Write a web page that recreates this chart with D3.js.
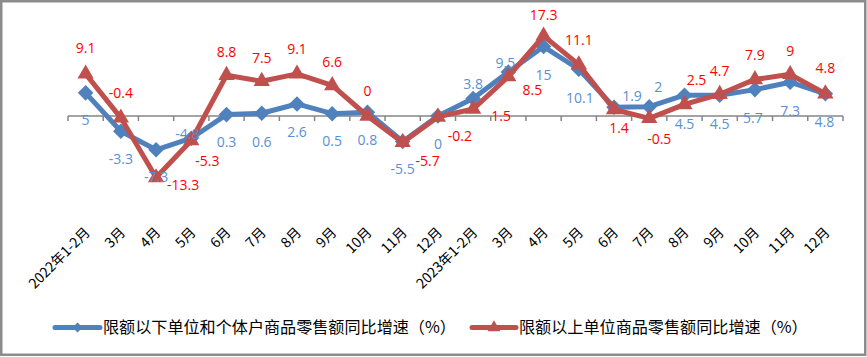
<!DOCTYPE html>
<html><head><meta charset="utf-8">
<script src="https://cdn.jsdelivr.net/npm/d3@7"></script>
<style>body{margin:0;background:#fff}svg{display:block}</style>
</head><body>
<svg id="c" width="867" height="357"></svg>
<script>
const categories = ["2022年1-2月","3月","4月","5月","6月","7月","8月","9月","10月","11月","12月","2023年1-2月","3月","4月","5月","6月","7月","8月","9月","10月","11月","12月"];
const seriesBelow = [5,-3.3,-7.3,-4.8,0.3,0.6,2.6,0.5,0.8,-5.5,0,3.8,9.5,15,10.1,1.9,2,4.5,4.5,5.7,7.3,4.8];
const seriesAbove = [9.1,-0.4,-13.3,-5.3,8.8,7.5,9.1,6.6,0,-5.7,-0.2,1.5,8.5,17.3,11.1,1.4,-0.5,2.5,4.7,7.9,9,4.8];
const seriesNames = ["限额以下单位和个体户商品零售额同比增速（%）","限额以上单位商品零售额同比增速（%）"];
// label offsets (px) relative to each point
const belowLabelOffsets = [[0,27],[0,27],[0,27],[-4,-5],[0,27],[0,28],[0,28],[0,27],[0,27],[0,27],[0,27],[0,-15],[-3,-10],[0,28],[1,28],[18,-12],[9,-20],[0,28],[0,28],[-2,28],[0,28],[-1,28]];
const aboveLabelOffsets = [[0,-26],[0,-25],[27,7],[16,20],[0,-24],[0,-24],[0,-25],[0,-24],[0,-26],[25,18],[22,19],[28,6],[24,13],[0,-21],[0,-25],[5,18],[10,20],[12,-25],[0,-24],[0,-25],[0,-24],[0,-26]];

const svg = d3.select("#c");
const blue = "#4F81BD", red = "#C0504D";
const x = d3.scaleBand().domain(d3.range(categories.length)).range([68, 843]);
const y = d3.scaleLinear().domain([-20, 20]).range([208.6, 23.4]);
const cx = i => x(i) + x.bandwidth() / 2;

// frame
svg.append("rect").attr("x",1.25).attr("y",1.25).attr("width",864).attr("height",353.5)
  .attr("fill","none").attr("stroke","#8c8c8c").attr("stroke-width",2.5);

// axis
const y0 = y(0);
svg.append("line").attr("x1",68).attr("x2",843).attr("y1",y0).attr("y2",y0)
  .attr("stroke","#868686").attr("stroke-width",1.5);
const tickPos = d3.range(categories.length).map(i => x(i)).concat([x.range()[1]]);
svg.selectAll("line.tick").data(tickPos).join("line").attr("class","tick")
  .attr("x1",d=>d).attr("x2",d=>d).attr("y1",y0).attr("y2",y0+5)
  .attr("stroke","#868686").attr("stroke-width",1.5);
svg.selectAll("text.xl").data(categories).join("text").attr("class","xl")
  .attr("transform",(d,i)=>`translate(${cx(i)+1},229) rotate(-45)`)
  .attr("text-anchor","end").attr("dominant-baseline","central")
  .attr("font-family","'Noto Sans CJK SC', sans-serif").attr("font-size",14)
  .attr("fill","#000").text(d=>d);

const line = d3.line().x((d,i)=>cx(i)).y(d=>y(d));
// blue series
svg.append("path").datum(seriesBelow).attr("d",line).attr("fill","none")
  .attr("stroke",blue).attr("stroke-width",5).attr("stroke-linejoin","round");
svg.selectAll("path.bm").data(seriesBelow).join("path").attr("class","bm")
  .attr("d",d3.symbol(d3.symbolSquare,121)())
  .attr("transform",(d,i)=>`translate(${cx(i)},${y(d)}) rotate(45)`).attr("fill",blue);
// red series
svg.append("path").datum(seriesAbove).attr("d",line).attr("fill","none")
  .attr("stroke",red).attr("stroke-width",5).attr("stroke-linejoin","round");
svg.selectAll("path.rm").data(seriesAbove).join("path").attr("class","rm")
  .attr("d",d3.symbol(d3.symbolTriangle,115)())
  .attr("transform",(d,i)=>`translate(${cx(i)},${y(d)})`).attr("fill",red);

// data labels
const lblFont = "'Open Sans', sans-serif";
svg.selectAll("text.bl").data(seriesBelow).join("text").attr("class","bl")
  .attr("x",(d,i)=>cx(i)+belowLabelOffsets[i][0]).attr("y",(d,i)=>y(d)+belowLabelOffsets[i][1])
  .attr("text-anchor","middle").attr("dominant-baseline","central")
  .attr("font-family",lblFont).attr("font-size",14).attr("fill","#5A8FD3").text(d=>d);
svg.selectAll("text.rl").data(seriesAbove).join("text").attr("class","rl")
  .attr("x",(d,i)=>cx(i)+aboveLabelOffsets[i][0]).attr("y",(d,i)=>y(d)+aboveLabelOffsets[i][1])
  .attr("text-anchor","middle").attr("dominant-baseline","central")
  .attr("font-family",lblFont).attr("font-size",14).attr("fill","#FF0000").text(d=>d);

// legend
const leg = [{x:55, w:45, tx:103, tl:353, c:blue, sym:"d"},{x:472, w:44, tx:519, tl:289, c:red, sym:"t"}];
const lg = svg.selectAll("g.leg").data(leg).join("g").attr("class","leg");
lg.append("line").attr("x1",d=>d.x).attr("x2",d=>d.x+d.w).attr("y1",327.5).attr("y2",327.5)
  .attr("stroke",d=>d.c).attr("stroke-width",5).attr("stroke-linecap","round");
lg.append("path").attr("d",d=>d.sym==="d"?d3.symbol(d3.symbolSquare,50)():d3.symbol(d3.symbolTriangle,70)())
  .attr("transform",d=>`translate(${d.x+d.w/2},327.5)`+(d.sym==="d"?" rotate(45)":"")).attr("fill",d=>d.c);
lg.append("text").attr("x",0).attr("y",0).attr("dominant-baseline","central")
  .attr("font-family","'Noto Sans CJK SC', sans-serif").attr("font-size",16)
  .attr("fill","#000").text((d,i)=>seriesNames[i])
  .attr("transform",function(d){
    const w = this.getComputedTextLength();
    return `translate(${d.tx},326) scale(${d.tl / w},1)`;
  });
</script>
</body></html>
